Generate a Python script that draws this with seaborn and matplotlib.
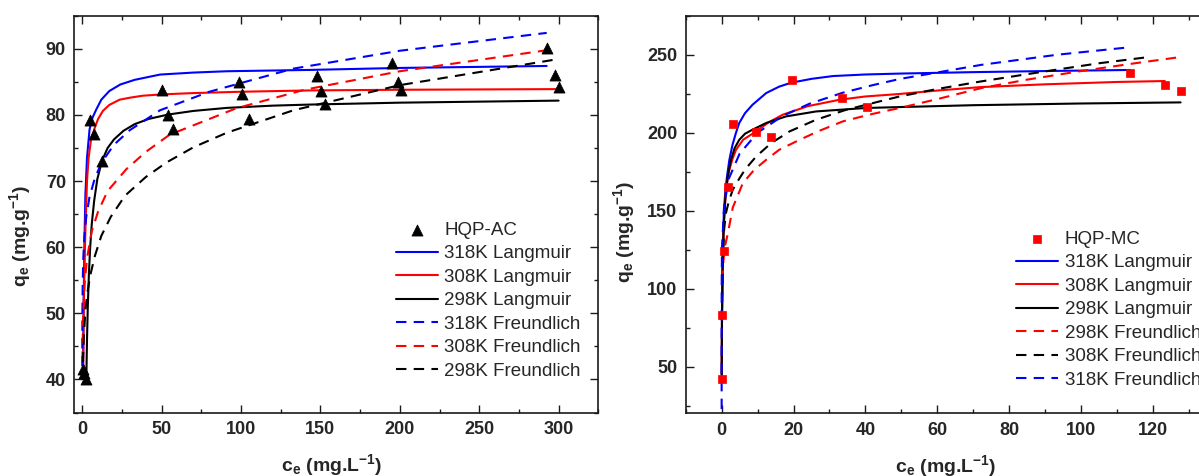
import matplotlib
matplotlib.use("Agg")
import matplotlib.pyplot as plt
from matplotlib.ticker import MultipleLocator
import seaborn as sns

# ---------------- HQP-AC (left panel) ----------------
ac_ce = [0.3, 1.2, 2.5, 5.0, 7.6, 12.5, 50.0, 54.1, 57.2, 98.6, 100.8, 105.0,
         147.7, 150.6, 153.1, 195.2, 199.1, 200.5, 292.7, 297.6, 300.5]
ac_qe = [41.6, 41.0, 40.1, 79.2, 77.1, 73.1, 83.7, 80.0, 77.9, 85.0, 83.1, 79.4,
         85.9, 83.6, 81.6, 87.8, 85.0, 83.7, 90.1, 86.1, 84.2]

# fitted isotherm curves, sampled along each curve
ac_l318_ce = [0.5, 0.9, 1.4, 2.0, 3.0, 4.6, 6.5, 8.8, 12, 17, 24, 33, 49, 70, 91, 143, 200, 292.5]
ac_l318_qe = [40.5, 52, 61, 68, 73.5, 77.8, 79.6, 80.8, 82.3, 83.6, 84.6, 85.3, 86.1, 86.4, 86.6, 86.8, 87.1, 87.4]
ac_l308_ce = [0.5, 1.0, 1.5, 2.1, 3.0, 4.0, 5.5, 7.8, 10, 13, 17, 23.5, 30, 38, 50, 70, 100, 143, 200, 300]
ac_l308_qe = [40.5, 52, 58, 63.5, 70, 73.5, 76.2, 78.0, 79.4, 80.6, 81.5, 82.3, 82.6, 82.9, 83.1, 83.3, 83.5, 83.7, 83.8, 83.9]
ac_l298_ce = [2.6, 3.0, 3.5, 4.2, 5.0, 6.0, 7.5, 9.5, 12.5, 16, 20, 26, 33, 42, 54, 70, 91, 120, 143, 200, 300]
ac_l298_qe = [40.5, 46, 51, 56, 60, 63.5, 67, 70.3, 73.1, 75.0, 76.3, 77.6, 78.6, 79.4, 80.05, 80.6, 81.06, 81.4, 81.56, 81.85, 82.16]
ac_f318_ce = [0.01, 0.03, 0.1, 0.3, 0.7, 1.4, 2.5, 4.5, 8, 12.5, 20, 30, 49, 80, 133, 200, 292.5]
ac_f318_qe = [42, 45.5, 50.3, 54.9, 58.5, 61.8, 64.5, 67.5, 70.5, 72.9, 75.5, 77.7, 80.7, 83.5, 87.0, 89.7, 92.4]
ac_f308_ce = [0.06, 0.2, 0.6, 1.5, 3, 6, 10, 16, 27.8, 40, 55, 75, 97, 140, 200, 297.6]
ac_f308_qe = [40.0, 44.7, 49.9, 54.4, 58.3, 62.4, 65.4, 68.5, 71.8, 74.4, 77.0, 78.9, 81.0, 83.8, 86.6, 89.95]
ac_f298_ce = [0.25, 0.5, 1, 2, 3, 5, 8, 12, 18, 27, 40, 53, 70, 91, 133, 200, 300]
ac_f298_qe = [39.9, 43.1, 46.6, 50.4, 52.7, 55.7, 58.7, 61.7, 64.6, 67.8, 70.6, 72.8, 75.1, 77.3, 80.7, 84.5, 88.45]

# ---------------- HQP-MC (right panel) ----------------
mc_ce = [0.0, 0.2, 0.64, 1.7, 3.08, 9.66, 13.6, 19.5, 33.5, 40.5, 113.7, 123.3, 127.7]
mc_qe = [41.9, 83.2, 124.4, 165.1, 205.7, 200.4, 196.95, 234.0, 222.0, 216.2, 238.2, 230.3, 226.5]

mc_l318_ce = [0.02, 0.1, 0.3, 0.6, 1.0, 1.5, 2.15, 3.0, 4.0, 4.9, 6.5, 8.6, 12.4, 16, 19.3, 25, 31, 40, 50, 70, 90, 113.7]
mc_l318_qe = [40, 80, 125, 148, 162, 172, 182.6, 192, 200, 206.2, 212.5, 217.9, 225.4, 229.5, 232, 234.5, 236.3, 237.3, 237.9, 238.8, 239.5, 240.2]
mc_l308_ce = [0.02, 0.1, 0.3, 0.6, 1.2, 2.0, 3.0, 4.0, 6.0, 9.6, 13, 17, 24, 32.8, 40, 49.5, 60, 72, 90, 110, 123.3]
mc_l308_qe = [45, 85, 120, 142, 163.4, 175, 183, 189, 195.5, 200.8, 206.5, 211.5, 217, 221.1, 223.2, 224.8, 227, 229.2, 231, 232.5, 233.1]
mc_l298_ce = [0.02, 0.1, 0.3, 0.6, 1.0, 1.7, 2.6, 3.6, 4.9, 6.5, 8.6, 12.4, 17.9, 26.3, 40, 49.5, 70, 100, 127.7]
mc_l298_qe = [45, 82, 118, 140, 157, 172, 182.6, 190, 195.4, 199.3, 201.9, 206.2, 210.4, 213.6, 215.8, 216.4, 217.6, 218.7, 219.4]
mc_f298_ce = [0.2, 0.5, 1.0, 1.7, 3.1, 5.9, 9, 12.4, 16, 21.7, 27, 33.7, 41, 49.5, 60, 72.3, 85, 100, 115, 127.7]
mc_f298_qe = [105, 118, 128, 135, 152, 167.6, 176, 182.6, 189, 195.4, 201, 207.2, 211.5, 215.8, 221.5, 228.6, 234, 239.5, 244.5, 248.5]
mc_f308_ce = [0.05, 0.3, 0.7, 1.2, 2.0, 3.1, 4.5, 5.9, 7.5, 9.6, 13.8, 18.9, 26.3, 34.7, 43.9, 49.5, 60, 72.3, 85, 93.5, 105, 118.9]
mc_f308_qe = [80, 118, 138, 148.4, 156, 163.4, 169, 174.1, 179, 184.7, 193.3, 200.8, 208.3, 214.7, 220, 223.2, 228, 232.9, 237.5, 240.5, 244.5, 248.5]
mc_f318_ce = [0.0, 0.001, 0.01, 0.1, 0.67, 2, 5, 10, 17, 24.4, 33.7, 42.1, 49.5, 72.3, 93.5, 113.7]
mc_f318_qe = [0.0, 79.7, 100.4, 126.4, 152.6, 170.5, 186.5, 200.0, 210.7, 218.5, 225.6, 230.5, 234.4, 243.5, 250.0, 254.8]

BLUE, RED, BLACK = "#0000ff", "#ff0000", "#000000"
DASH = (0, (5, 3.5))

sns.set_style("ticks")
plt.rcParams["font.family"] = ["Liberation Sans", "DejaVu Sans"]
plt.rcParams["font.weight"] = "bold"
plt.rcParams["mathtext.default"] = "regular"
plt.rcParams["axes.linewidth"] = 1.2
plt.rcParams["axes.edgecolor"] = "#1a1a1a"

W, H = 1199, 476
fig = plt.figure(figsize=(W / 100, H / 100), dpi=100)
axL = fig.add_axes([74.3 / W, (H - 412.5) / H, 524 / W, 396.8 / H])
axR = fig.add_axes([685.7 / W, (H - 413.3) / H, 539.1 / W, 397.6 / H])


def curve(ax, ce, qe, color, label, dashed=False):
    kw = dict(linestyle=DASH) if dashed else {}
    sns.lineplot(x=ce, y=qe, ax=ax, color=color, linewidth=1.5, sort=False,
                 estimator=None, label=label, **kw)


def style(ax, xlim, ylim, xmaj, xmin, ymaj, ymin):
    ax.set_xlim(*xlim)
    ax.set_ylim(*ylim)
    ax.xaxis.set_major_locator(MultipleLocator(xmaj))
    ax.xaxis.set_minor_locator(MultipleLocator(xmin))
    ax.yaxis.set_major_locator(MultipleLocator(ymaj))
    ax.yaxis.set_minor_locator(MultipleLocator(ymin))
    ax.tick_params(which="both", direction="in", top=True, right=True,
                   width=1.0, color="#1a1a1a")
    ax.tick_params(which="major", length=5.5, labelsize=13, pad=6)
    ax.tick_params(which="minor", length=3)
    for s in ax.spines.values():
        s.set_visible(True)
    ax.set_xlabel("c$_e$ (mg.L$^{-1}$)", fontsize=14, fontweight="bold")
    ax.set_ylabel("q$_e$ (mg.g$^{-1}$)", fontsize=14, fontweight="bold")


def legend(ax, order, anchor):
    handles, labels = ax.get_legend_handles_labels()
    lookup = dict(zip(labels, handles))
    ax.legend([lookup[k] for k in order], order, loc="upper left",
              bbox_to_anchor=anchor, frameon=False, borderpad=0,
              borderaxespad=0, handlelength=2.25, handletextpad=0.33,
              labelspacing=0.34, prop={"weight": "normal", "size": 13.5})


# left panel: HQP-AC
curve(axL, ac_l318_ce, ac_l318_qe, BLUE, "318K Langmuir")
curve(axL, ac_l308_ce, ac_l308_qe, RED, "308K Langmuir")
curve(axL, ac_l298_ce, ac_l298_qe, BLACK, "298K Langmuir")
curve(axL, ac_f318_ce, ac_f318_qe, BLUE, "318K Freundlich", dashed=True)
curve(axL, ac_f308_ce, ac_f308_qe, RED, "308K Freundlich", dashed=True)
curve(axL, ac_f298_ce, ac_f298_qe, BLACK, "298K Freundlich", dashed=True)
sns.scatterplot(x=ac_ce, y=ac_qe, ax=axL, marker="^", s=64, color=BLACK,
                edgecolor=BLACK, linewidth=0.5, label="HQP-AC", zorder=5)
style(axL, (-5, 325), (35, 95), 50, 25, 10, 5)
legend(axL, ["HQP-AC", "318K Langmuir", "308K Langmuir", "298K Langmuir",
             "318K Freundlich", "308K Freundlich", "298K Freundlich"],
       (0.614, 0.481))

# right panel: HQP-MC
curve(axR, mc_l318_ce, mc_l318_qe, BLUE, "318K Langmuir")
curve(axR, mc_l308_ce, mc_l308_qe, RED, "308K Langmuir")
curve(axR, mc_l298_ce, mc_l298_qe, BLACK, "298K Langmuir")
curve(axR, mc_f298_ce, mc_f298_qe, RED, "298K Freundlich", dashed=True)
curve(axR, mc_f308_ce, mc_f308_qe, BLACK, "308K Freundlich", dashed=True)
curve(axR, mc_f318_ce, mc_f318_qe, BLUE, "318K Freundlich", dashed=True)
sns.scatterplot(x=mc_ce, y=mc_qe, ax=axR, marker="s", s=40, color=RED,
                edgecolor=RED, linewidth=0.5, label="HQP-MC", zorder=5)
style(axR, (-10, 140), (20, 275), 20, 10, 50, 25)
legend(axR, ["HQP-MC", "318K Langmuir", "308K Langmuir", "298K Langmuir",
             "298K Freundlich", "308K Freundlich", "318K Freundlich"],
       (0.613, 0.459))

axL.yaxis.set_label_coords(-0.078, 0.445)
axR.yaxis.set_label_coords(-0.091, 0.457)
axL.xaxis.set_label_coords(0.492, -0.1)
axR.xaxis.set_label_coords(0.483, -0.1)

fig.savefig("out.png", dpi=100)
